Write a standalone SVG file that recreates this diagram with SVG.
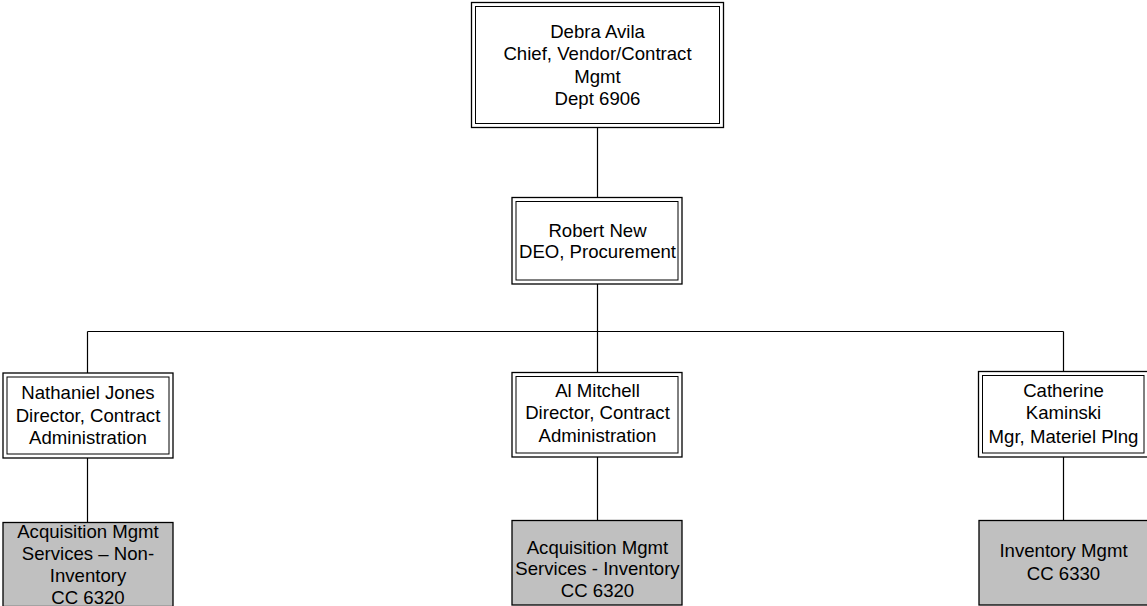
<svg xmlns="http://www.w3.org/2000/svg" width="1147" height="606" viewBox="0 0 1147 606">
<style>
.o{fill:#fff;stroke:#000;stroke-width:1.3}
.i{fill:none;stroke:#000;stroke-width:1}
.g{fill:#c0c0c0;stroke:#000;stroke-width:1.3}
.c{fill:none;stroke:#000;stroke-width:1.2}
text{font-family:"Liberation Sans",Arial,sans-serif;font-size:18.6px;fill:#000;text-anchor:middle}
</style>
<rect width="1147" height="606" fill="#fff"/>
<g id="connectors">
<path class="c" d="M597.5 127V197M597.5 284V372M87.5 331.5H1063.5M87.5 331.5V373M1063.5 331.5V372M87.5 457V522M597.5 457V520M1063.5 457V520"/>
</g>
<g id="n-debra">
<rect class="o" x="471.5" y="2.5" width="252" height="125"/>
<rect class="i" x="475.5" y="6.5" width="244" height="117"/>
<text x="597.5" y="38">Debra Avila</text>
<text x="597.5" y="60.3">Chief, Vendor/Contract</text>
<text x="597.5" y="82.6">Mgmt</text>
<text x="597.5" y="105">Dept 6906</text>
</g>
<g id="n-robert">
<rect class="o" x="512" y="197.5" width="170" height="86.5"/>
<rect class="i" x="516" y="201.5" width="162" height="78.5"/>
<text x="597.5" y="236.5">Robert New</text>
<text x="597.5" y="257.8">DEO, Procurement</text>
</g>
<g id="n-nathaniel">
<rect class="o" x="3" y="373" width="170" height="85"/>
<rect class="i" x="7" y="377" width="162" height="77"/>
<text x="88" y="399.3">Nathaniel Jones</text>
<text x="88" y="421.7">Director, Contract</text>
<text x="88" y="444">Administration</text>
</g>
<g id="n-al">
<rect class="o" x="512" y="372.5" width="170" height="84.5"/>
<rect class="i" x="516" y="376.5" width="162" height="76.5"/>
<text x="597.5" y="396.7">Al Mitchell</text>
<text x="597.5" y="419.3">Director, Contract</text>
<text x="597.5" y="441.7">Administration</text>
</g>
<g id="n-catherine">
<rect class="o" x="978.5" y="371.5" width="170" height="85.5"/>
<rect class="i" x="982.5" y="375.5" width="161.5" height="77.5"/>
<text x="1063.5" y="396.7">Catherine</text>
<text x="1063.5" y="419.3">Kaminski</text>
<text x="1063.5" y="442.5">Mgr, Materiel Plng</text>
</g>
<g id="n-acq-noninv">
<rect class="g" x="3" y="522.5" width="170" height="84"/>
<text x="88" y="537.5">Acquisition Mgmt</text>
<text x="88" y="560">Services – Non-</text>
<text x="88" y="582.3">Inventory</text>
<text x="88" y="604.3">CC 6320</text>
</g>
<g id="n-acq-inv">
<rect class="g" x="512" y="520.5" width="170" height="84.5"/>
<text x="597.5" y="553.5">Acquisition Mgmt</text>
<text x="597.5" y="575">Services - Inventory</text>
<text x="597.5" y="596.5">CC 6320</text>
</g>
<g id="n-inv">
<rect class="g" x="979" y="520.5" width="170" height="84.5"/>
<text x="1063.5" y="557.3">Inventory Mgmt</text>
<text x="1063.5" y="580">CC 6330</text>
</g>
</svg>
